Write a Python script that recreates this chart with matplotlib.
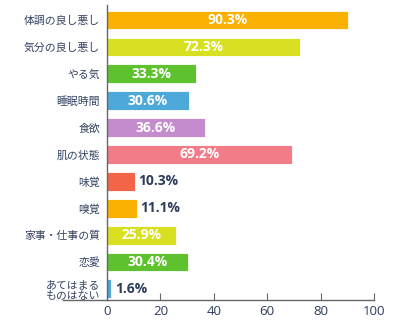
import matplotlib
matplotlib.use("Agg")
import matplotlib.pyplot as plt
from matplotlib.lines import Line2D

plt.rcParams['font.family'] = ['Noto Sans CJK JP', 'DejaVu Sans']

categories = ["体調の良し悪し", "気分の良し悪し", "やる気", "睡眠時間", "食欲", "肌の状態",
              "味覚", "嗅覚", "家事・仕事の質", "恋愛", "あてはまる\nものはない"]
values = [90.3, 72.3, 33.3, 30.6, 36.6, 69.2, 10.3, 11.1, 25.9, 30.4, 1.6]
colors = ["#FBB101", "#D9E021", "#5EC22E", "#4DA9D9", "#C48CCC", "#F27C88",
          "#F26546", "#FBB101", "#D9E021", "#5EC22E", "#4DA9D9"]
xticks = [0, 20, 40, 60, 80, 100]

navy = "#2E3D5C"

fig = plt.figure(figsize=(4, 3.34), dpi=100)
ax = fig.add_axes([0.2675, 0.102, 0.6675, 0.883])

ypos = list(range(len(categories)))
ax.barh(ypos, values, height=0.7, color=colors, edgecolor="white", linewidth=0.6)

for y, v in zip(ypos, values):
    label = f"{v:.1f}%"
    if v > 20:
        ax.text(v / 2, y, label, ha="center", va="center", color="white",
                fontsize=10, fontweight="bold", family="Open Sans")
    else:
        ax.text(v + 1.5, y, label, ha="left", va="center", color=navy,
                fontsize=10, fontweight="bold", family="Open Sans")

ax.set_xlim(0, 100)
ax.set_ylim(10.41, -0.56)
ax.set_yticks(ypos)
ax.set_yticklabels(categories, fontsize=7.8, color="#34425F", linespacing=1.15)
ax.set_xticks(xticks)
ax.set_xticklabels([str(t) for t in xticks], fontsize=9.5, color=navy, family="Open Sans")

for s in ["top", "right", "bottom"]:
    ax.spines[s].set_visible(False)
ax.spines["left"].set_color("#666666")
ax.spines["left"].set_linewidth(1.0)

# bottom axis line runs a bit past the zero line to the left
ax.add_line(Line2D([-0.165, 1.0], [0, 0], transform=ax.transAxes,
                   color="#666666", linewidth=1.0, clip_on=False))

ax.tick_params(axis="y", length=0, pad=5)
ax.tick_params(axis="x", direction="in", length=5, color="#666666", pad=4)

fig.savefig("out.png", dpi=100)
